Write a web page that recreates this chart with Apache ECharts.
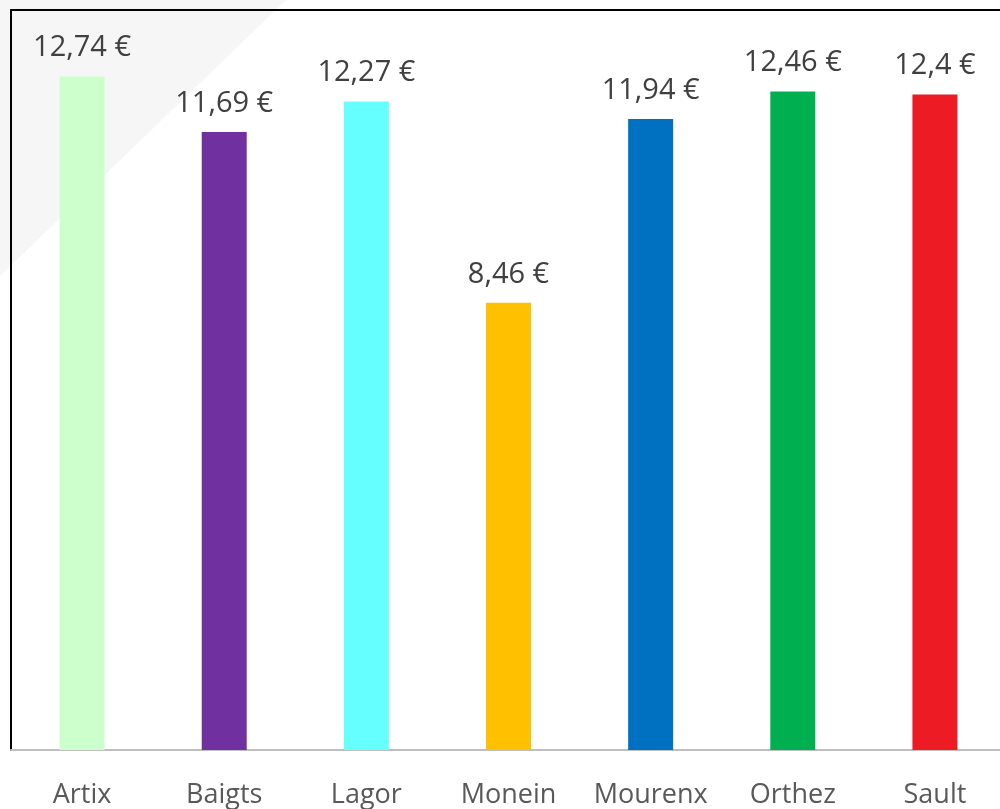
<!DOCTYPE html>
<html>
<head>
<meta charset="utf-8">
<script src="https://cdn.jsdelivr.net/npm/echarts@6/dist/echarts.min.js"></script>
<style>html,body{margin:0;padding:0;background:#fff;overflow:hidden;width:1000px;height:809px;}#c{width:1006px;height:809px;}</style>
</head>
<body>
<div id="c"></div>
<script>
var categories = ['Artix', 'Baigts', 'Lagor', 'Monein', 'Mourenx', 'Orthez', 'Sault'];
var prices = [12.74, 11.69, 12.27, 8.46, 11.94, 12.46, 12.4];
var barColors = ['#ccffcc', '#7030a0', '#66ffff', '#ffc000', '#0070c0', '#00b050', '#ed1c24'];

var chart = echarts.init(document.getElementById('c'), null, {renderer: 'canvas'});
var font = '"Open Sans", "Noto Sans", sans-serif';
chart.setOption({
  animation: false,
  backgroundColor: '#ffffff',
  graphic: [{
    type: 'polygon',
    z: -10,
    silent: true,
    shape: {points: [[0, 0], [286, 0], [0, 276]]},
    style: {fill: '#f6f6f6'}
  }],
  grid: {left: 11, top: 10, right: 0, bottom: 57, containLabel: false},
  xAxis: [{
    type: 'category',
    data: categories,
    position: 'bottom',
    axisLine: {show: true, lineStyle: {color: '#bfbfbf', width: 2}},
    axisTick: {show: false},
    axisLabel: {color: '#595959', fontSize: 27, fontFamily: font, margin: 32, interval: 0}
  }, {
    type: 'category',
    data: categories,
    position: 'top',
    axisLine: {show: true, lineStyle: {color: '#000000', width: 2}},
    axisTick: {show: false},
    axisLabel: {show: false}
  }],
  yAxis: {
    type: 'value',
    min: 0,
    max: 14,
    axisLine: {show: true, lineStyle: {color: '#000000', width: 2}},
    axisTick: {show: false},
    axisLabel: {show: false},
    splitLine: {show: false}
  },
  series: [{
    type: 'bar',
    barWidth: 45,
    data: prices.map(function (v, i) { return {value: v, itemStyle: {color: barColors[i]}}; }),
    label: {
      show: true,
      position: 'top',
      distance: 14,
      color: '#404040',
      fontSize: 29,
      fontFamily: font,
      formatter: function (p) { return String(p.value).replace('.', ',') + ' €'; }
    }
  }]
});
</script>
</body>
</html>
